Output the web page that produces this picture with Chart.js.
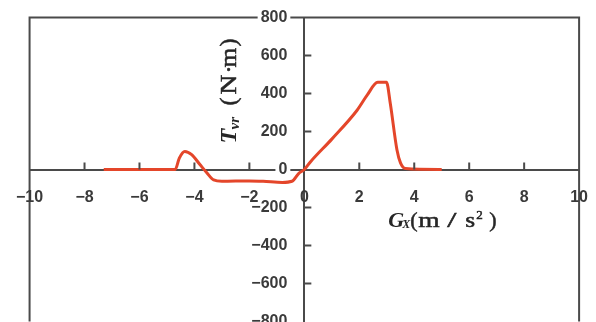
<!DOCTYPE html>
<html>
<head>
<meta charset="utf-8">
<script src="https://cdn.jsdelivr.net/npm/chart.js@4.4.0/dist/chart.umd.min.js"></script>
<style>
  html, body { margin: 0; padding: 0; background: #fff; overflow: hidden; }
  canvas { display: block; position: absolute; left: -2px; top: -9px; }
</style>
</head>
<body>
<canvas id="torqueChart" width="608" height="357"></canvas>
<script>
// Gx (m/s2) against Tvr (N·m)
const gx  = [-7.3, -4.7, -4.55, -4.35, -4.1, -3.8, -3.55, -3.3, -3.0, -2.0, -1.5, -0.8, -0.45, -0.2, 0, 0.22, 1.0, 1.92, 2.28, 2.67, 2.99, 3.13, 3.37, 3.5, 3.68, 5.0];
const tvr = [0, 0, 60, 95, 78, 26, -17, -55, -62, -60, -62, -68, -62, -20, 0, 40, 160, 312, 390, 459, 459, 346, 104, 35, 5, 0];
const xTicks = [-10, -8, -6, -4, -2, 0, 2, 4, 6, 8, 10];
const yTicks = [-800, -600, -400, -200, 0, 200, 400, 600, 800];

const lineColor = '#e4462a';
const axisColor = '#4a4a4a';
const tickFont = { family: '"Liberation Sans", Arial, sans-serif', size: 16, weight: 'bold' };
const serif = '"Liberation Serif", "DejaVu Serif", serif';

function fmt(v) {
    return v < 0 ? '\u2212' + Math.abs(v) : String(v);
}

// pieces of an axis title: text, font, offset along the line, offset across, horizontal stretch
const xTitle = [
    ['G', 'bold italic 22px', 0, 0, 1],
    ['X', 'bold italic 12px', 14, 1, 1],
    ['(', '22px', 22, 0, 1],
    ['m', '22px', 30, 0, 1.25],
    ['/', '22px', 59, 0, 1.5],
    ['s', '22px', 77, 0, 1.15],
    ['2', '13px', 88, -8, 1],
    [')', '22px', 101, 0, 1]
];
const yTitle = [
    ['T', 'bold italic 24px', 0, 0, 1],
    ['vr', 'bold italic 15px', 14, 3, 1],
    ['(', '24px', 38, 0, 1],
    ['N', '24px', 49, 0, 1.15],
    ['\u00b7', '24px', 70, 0, 1],
    ['m', '24px', 76, 0, 1.05],
    [')', '24px', 97, 0, 1]
];

function drawPieces(ctx, pieces) {
    pieces.forEach(([t, f, dx, dy, sx]) => {
        ctx.save();
        ctx.font = f + ' ' + serif;
        ctx.translate(dx, dy);
        ctx.scale(sx, 1);
        ctx.fillText(t, 0, 0);
        if (f.indexOf('bold') < 0) ctx.strokeText(t, 0, 0);
        ctx.restore();
    });
}

// frame round the plot, inner tick marks, axis titles
const decorations = {
    id: 'decorations',
    beforeDraw(chart) {
        const { ctx, chartArea: a } = chart;
        ctx.save();
        ctx.fillStyle = '#fff';
        ctx.fillRect(0, 0, chart.width, chart.height);
        ctx.strokeStyle = axisColor;
        ctx.lineWidth = 2;
        ctx.beginPath();
        ctx.moveTo(a.left, a.bottom);
        ctx.lineTo(a.left, a.top);
        ctx.lineTo(a.right, a.top);
        ctx.lineTo(a.right, a.bottom);
        ctx.stroke();
        ctx.restore();
    },
    afterDraw(chart) {
        const { ctx, scales } = chart;
        const x = scales.x, y = scales.y;
        const x0 = x.getPixelForValue(0), y0 = y.getPixelForValue(0);
        ctx.save();
        ctx.strokeStyle = axisColor;
        ctx.lineWidth = 2;
        ctx.beginPath();
        xTicks.forEach(v => {
            if (v === 0 || Math.abs(v) === 10) return;
            const px = x.getPixelForValue(v);
            ctx.moveTo(px, y0);
            ctx.lineTo(px, y0 - 7);
        });
        yTicks.forEach(v => {
            if (v === 0 || Math.abs(v) === 800) return;
            const py = y.getPixelForValue(v);
            ctx.moveTo(x0, py);
            ctx.lineTo(x0 + 7, py);
        });
        ctx.stroke();

        ctx.fillStyle = '#262626';
        ctx.strokeStyle = '#262626';
        ctx.lineWidth = 0.5;
        ctx.textBaseline = 'alphabetic';

        ctx.save();
        ctx.translate(x0 + 84, y0 + 57);
        drawPieces(ctx, xTitle);
        ctx.restore();

        ctx.save();
        ctx.translate(x0 - 68, y0 - 26);
        ctx.rotate(-Math.PI / 2);
        drawPieces(ctx, yTitle);
        ctx.restore();
        ctx.restore();
    }
};

const ctx = document.getElementById('torqueChart').getContext('2d');
const torqueChart = new Chart(ctx, {
    type: 'line',
    data: {
        datasets: [{
            data: gx.map((v, i) => ({ x: v, y: tvr[i] })),
            borderColor: lineColor,
            borderWidth: 3,
            pointRadius: 0,
            cubicInterpolationMode: 'monotone',
            fill: false
        }]
    },
    options: {
        responsive: false,
        animation: false,
        layout: { padding: 0 },
        plugins: { legend: { display: false }, tooltip: { enabled: false } },
        scales: {
            x: {
                type: 'linear',
                min: -10, max: 10,
                position: { y: 0 },
                afterFit: s => { s.height = 0; },
                afterBuildTicks: s => { s.ticks = xTicks.map(v => ({ value: v })); },
                grid: { drawOnChartArea: false, drawTicks: false, color: 'transparent' },
                border: { color: axisColor, width: 2 },
                ticks: {
                    z: 1,
                    padding: 18,
                    color: '#3a3a3a',
                    font: tickFont,
                    maxRotation: 0,
                    autoSkip: false,
                    callback: v => fmt(v)
                }
            },
            y: {
                type: 'linear',
                min: -800, max: 800,
                position: 'center',
                afterFit: s => { s.width = 0; },
                afterBuildTicks: s => { s.ticks = yTicks.map(v => ({ value: v })); },
                grid: { drawOnChartArea: false, drawTicks: false, color: 'transparent' },
                border: { color: axisColor, width: 2 },
                ticks: {
                    padding: 17,
                    color: '#3a3a3a',
                    font: tickFont,
                    autoSkip: false,
                    showLabelBackdrop: true,
                    backdropColor: '#fff',
                    backdropPadding: { top: 0, bottom: 0, left: 3, right: 3 },
                    callback: v => fmt(v)
                }
            }
        }
    },
    plugins: [decorations]
});
</script>
</body>
</html>
